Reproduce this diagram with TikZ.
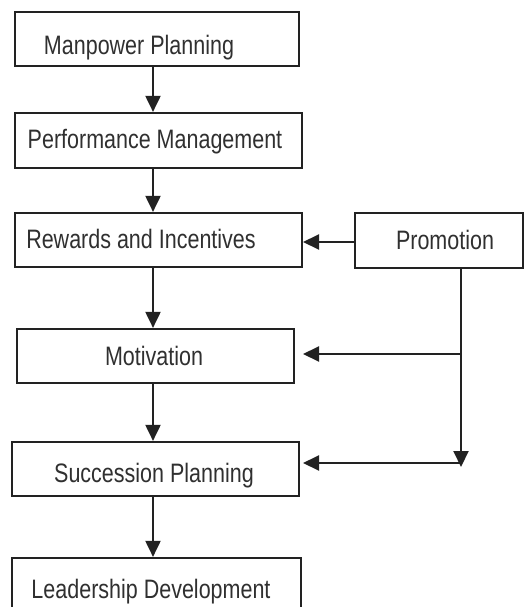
\documentclass[tikz,border=0pt]{standalone}
\usepackage{fontspec}
\setmainfont{Liberation Sans}
\usetikzlibrary{arrows.meta}
\definecolor{ink}{HTML}{222222}
\definecolor{txt}{HTML}{303030}
\newcommand{\vtxt}[1]{\scalebox{1}[1.24]{#1}}
\begin{document}
\begin{tikzpicture}[x=1pt,y=-1pt,
  box/.style={draw=ink,line width=2.2pt,fill=white,inner sep=0pt},
  lbl/.style={anchor=base,inner sep=0pt,text=txt,font=\fontsize{21.5}{24}\selectfont},
  arr/.style={draw=ink,line width=2pt,-{Triangle[width=15pt,length=16pt]}}]
\useasboundingbox (0,0) rectangle (525,607);
\clip (0,0) rectangle (525,607);
\fill[white] (0,0) rectangle (525,607);
% boxes
\node[box,minimum width=284pt,minimum height=54pt] (mp) at (157,39) {};
\node[box,minimum width=287pt,minimum height=55pt] (pm) at (158.5,140.5) {};
\node[box,minimum width=287pt,minimum height=54pt] (ri) at (158.5,240) {};
\node[box,minimum width=168pt,minimum height=55pt] (pr) at (439,240.5) {};
\node[box,minimum width=277pt,minimum height=54pt] (mo) at (155.5,356) {};
\node[box,minimum width=287pt,minimum height=54pt] (sp) at (155.5,469) {};
\node[box,minimum width=289pt,minimum height=54pt] (ld) at (156.5,585) {};
% labels
\node[lbl] (tmp) at (139,55) {\vtxt{Manpower Planning}};
\node[lbl] (tpm) at (155,148) {\vtxt{Performance Management}};
\node[lbl] (tri) at (141,248) {\vtxt{Rewards and Incentives}};
\node[lbl] (tpr) at (445,249) {\vtxt{Promotion}};
\node[lbl] (tmo) at (154,365) {\vtxt{Motivation}};
\node[lbl] (tsp) at (154,482) {\vtxt{Succession Planning}};
\node[lbl] (tld) at (151,598) {\vtxt{Leadership Development}};
% spine
\coordinate (sx) at (153,0);
\draw[arr] (mp.south -| sx) -- (pm.north -| sx);
\draw[arr] (pm.south -| sx) -- (ri.north -| sx);
\draw[arr] (ri.south -| sx) -- (mo.north -| sx);
\draw[arr] (mo.south -| sx) -- (sp.north -| sx);
\draw[arr] (sp.south -| sx) -- (ld.north -| sx);
% promotion side
\coordinate (pe) at (303,242);
\draw[arr] (pr.west |- pe) -- (pe);
\coordinate (vend) at (461,467);
\coordinate (jm) at (461,354);
\coordinate (js) at (461,463);
\coordinate (me) at (303,354);
\coordinate (se) at (303,463);
\draw[arr] (pr.south -| vend) -- (vend);
\draw[arr] (jm) -- (me);
\draw[arr] (js) -- (se);
\end{tikzpicture}
\end{document}
